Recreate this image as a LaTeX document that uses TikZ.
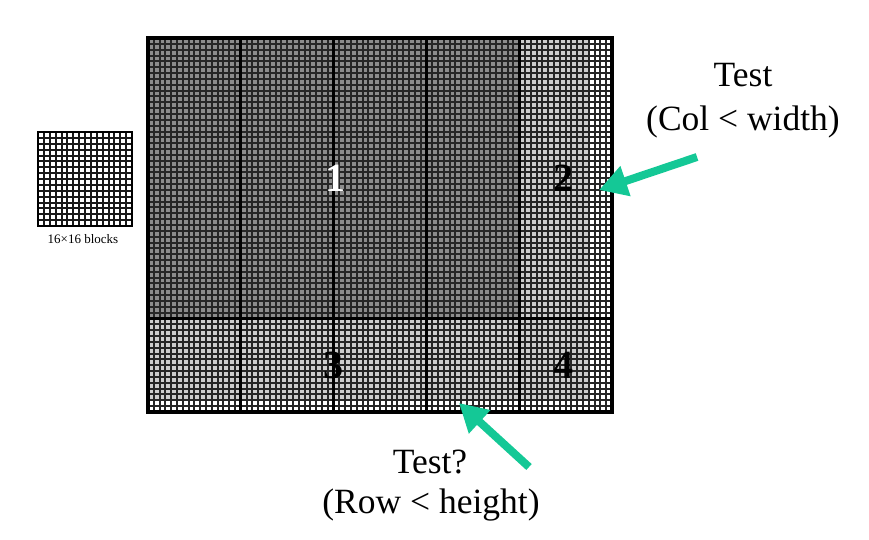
\documentclass[tikz,border=0pt]{standalone}
\usepackage{fontspec}
\setmainfont{Liberation Serif}
\usetikzlibrary{arrows.meta}
\definecolor{arrowgreen}{RGB}{20,200,150}
\definecolor{darkfill}{RGB}{140,140,140}
\definecolor{lightfill}{RGB}{205,205,205}
\tikzset{
  thingrid/.style={black!85, line width=2pt},
  smallgrid/.style={black!90, line width=1.5pt},
  blockline/.style={black, line width=3pt},
  outerline/.style={black, line width=4pt},
  numlabel/.style={font=\fontsize{40}{40}\selectfont\bfseries, inner sep=0pt},
  testlabel/.style={font=\fontsize{35.5}{35.5}\selectfont, inner sep=0pt, anchor=base},
  greenarrow/.style={draw=arrowgreen, line width=8pt, -{Triangle[width=30pt,length=28pt]}},
}
\begin{document}
\begin{tikzpicture}[x=1pt,y=-1pt]
\useasboundingbox (0,0) rectangle (869,539);
% ---- small 16x16 block
\fill[white] (38,132) rectangle (132,226);
\foreach \i in {1,...,15} {
  \draw[smallgrid] ({round(38+\i*5.875)},132) -- ({round(38+\i*5.875)},226);
  \draw[smallgrid] (38,{round(132+\i*5.875)}) -- (132,{round(132+\i*5.875)});
}
\node[draw=black, line width=2pt, minimum width=94pt, minimum height=94pt, inner sep=0pt] (smallblock) at (85,179) {};
\node[font=\fontsize{13}{13}\selectfont, anchor=base] (smalllabel) at (83,243) {16×16 blocks};
% ---- big grid fills
\fill[lightfill] (148,38) rectangle (612,412);
\fill[darkfill] (148,38) rectangle (519.2,318.5);
\fill[white] (588,38) rectangle (612,412);
\fill[white] (148,400) rectangle (612,412);
% thin cell lines
\foreach \i in {1,...,79} {
  \draw[thingrid] ({round(148+\i*5.8)},38) -- ({round(148+\i*5.8)},412);
}
\foreach \j in {1,...,63} {
  \draw[thingrid] (148,{round(38+\j*5.84375)}) -- (612,{round(38+\j*5.84375)});
}
% block lines
\foreach \k in {1,...,4} {
  \draw[blockline] ({148+\k*92.8},38) -- ({148+\k*92.8},412);
}
\draw[blockline] (148,318.5) -- (612,318.5);
\draw[outerline] (148,38) rectangle (612,412);
% region numbers
\node[numlabel, text=white] (n1) at (335,178) {1};
\node[numlabel] (n2) at (563,178) {2};
\node[numlabel] (n3) at (333,365) {3};
\node[numlabel] (n4) at (563,365) {4};
% labels
\node[testlabel] (colA) at (743,86) {Test};
\node[testlabel] (colB) at (743,130) {(Col < width)};
\node[testlabel] (rowA) at (430,473) {Test?};
\node[testlabel] (rowB) at (431,513) {(Row < height)};
% arrows
\coordinate (a1tail) at (697,157);
\coordinate (a1tip) at (599,190);
\coordinate (a2tail) at (529,467);
\coordinate (a2tip) at (459,403);
\draw[greenarrow] (a1tail) -- (a1tip);
\draw[greenarrow] (a2tail) -- (a2tip);
\end{tikzpicture}
\end{document}
